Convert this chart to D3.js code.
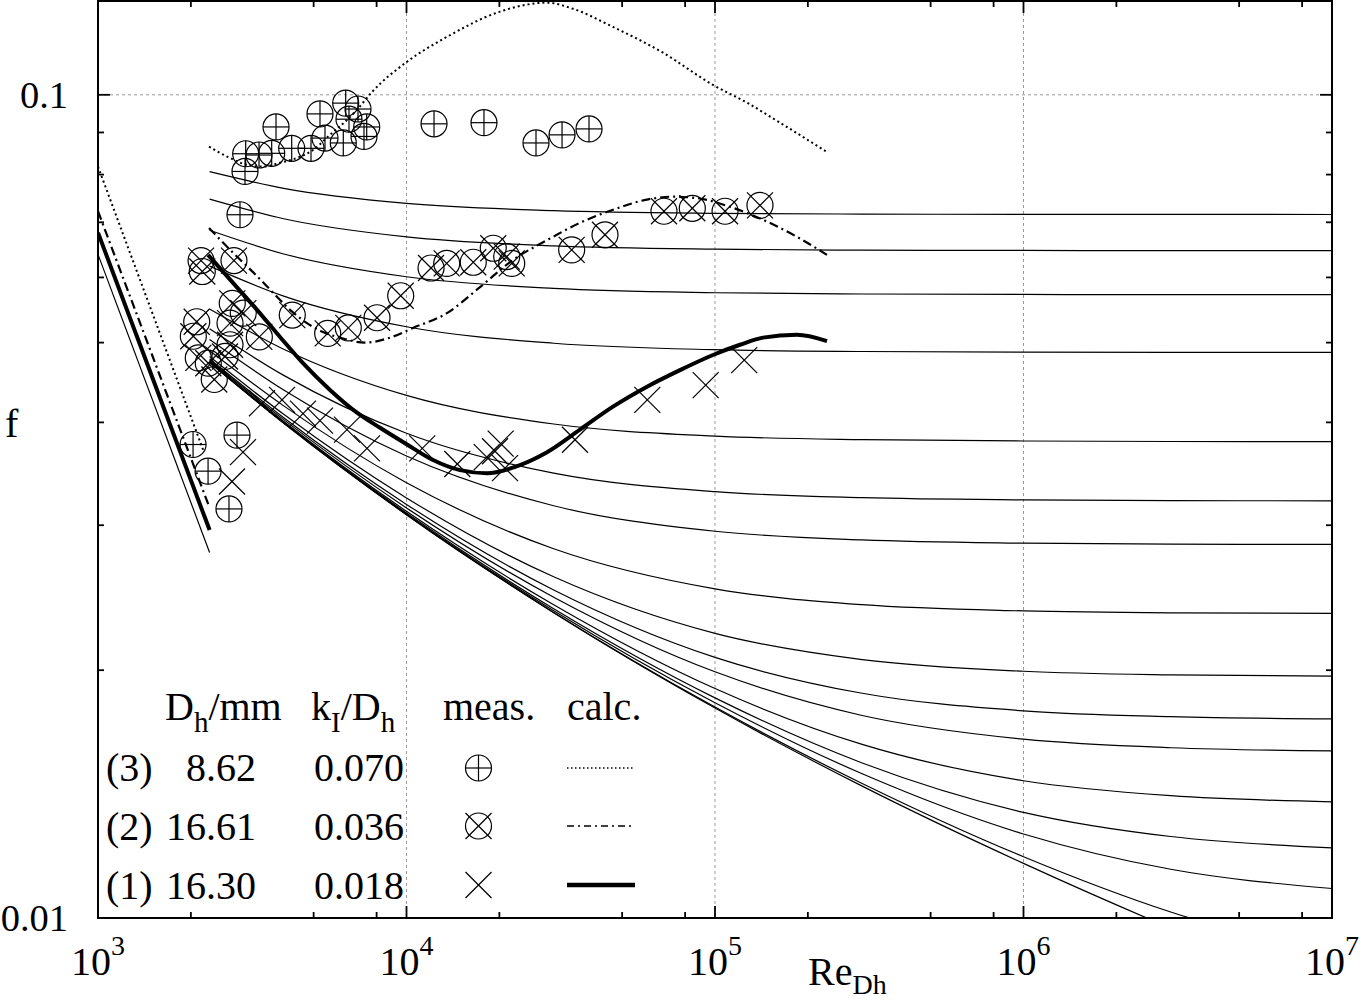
<!DOCTYPE html>
<html><head><meta charset="utf-8">
<script src="https://cdn.jsdelivr.net/npm/d3@7"></script>
<style>
body{margin:0;background:#fff}
svg{display:block}
text{font-family:"Liberation Serif","Times New Roman",serif;fill:#000}
</style>
</head><body>
<svg id="c" width="1360" height="1001"></svg>
<script>
// ---------- DATA ----------
const xMajorTicks = [1e3, 1e4, 1e5, 1e6, 1e7];
const xMajorExp = ["3", "4", "5", "6", "7"];
const xMinorTicks = [2e3, 5e3, 8e3, 2e4, 5e4, 8e4, 2e5, 5e5, 8e5, 2e6, 5e6, 8e6];
const yMajorTicks = [0.01, 0.1];
const yMajorLabels = ["0.01", "0.1"];
const yMinorTicks = [0.02, 0.03, 0.04, 0.05, 0.06, 0.07, 0.08, 0.09];
const xGrid = [1e4, 1e5, 1e6];
const yGrid = [0.1];

// thin reference curves (one per relative roughness), f at each Re
const colebrookRe = [2300, 4000, 1e4, 3e4, 1e5, 3e5, 1e6, 3e6, 1e7];
const roughness = [0.05, 0.04, 0.03, 0.02, 0.01, 0.006, 0.004, 0.002, 0.001, 0.0006, 0.0004, 0.0002, 0.0001, 0.00005, 0.00001, 0];
const colebrookF = [
  [0.08065, 0.07698, 0.07380, 0.07232, 0.07178, 0.07163, 0.07158, 0.07156, 0.07155],
  [0.07468, 0.07070, 0.06720, 0.06553, 0.06493, 0.06476, 0.06470, 0.06468, 0.06467],
  [0.06847, 0.06407, 0.06011, 0.05818, 0.05748, 0.05728, 0.05721, 0.05718, 0.05718],
  [0.06193, 0.05695, 0.05227, 0.04991, 0.04902, 0.04877, 0.04868, 0.04865, 0.04864],
  [0.05494, 0.04908, 0.04313, 0.03982, 0.03850, 0.03811, 0.03797, 0.03792, 0.03791],
  [0.05196, 0.04562, 0.03880, 0.03471, 0.03295, 0.03240, 0.03220, 0.03214, 0.03212],
  [0.05044, 0.04379, 0.03641, 0.03168, 0.02950, 0.02879, 0.02853, 0.02845, 0.02843],
  [0.04888, 0.04189, 0.03379, 0.02809, 0.02511, 0.02402, 0.02361, 0.02348, 0.02344],
  [0.04809, 0.04091, 0.03238, 0.02597, 0.02217, 0.02060, 0.01994, 0.01974, 0.01967],
  [0.04777, 0.04052, 0.03180, 0.02503, 0.02073, 0.01875, 0.01785, 0.01756, 0.01745],
  [0.04759, 0.04031, 0.03149, 0.02453, 0.01991, 0.01762, 0.01649, 0.01610, 0.01596],
  [0.04744, 0.04010, 0.03119, 0.02402, 0.01900, 0.01625, 0.01468, 0.01408, 0.01384],
  [0.04736, 0.04001, 0.03104, 0.02375, 0.01851, 0.01543, 0.01344, 0.01256, 0.01217],
  [0.04732, 0.03996, 0.03096, 0.02362, 0.01826, 0.01497, 0.01265, 0.01146, 0.01086],
  [0.04729, 0.03992, 0.03090, 0.02351, 0.01804, 0.01457, 0.01187, 0.01017, 0.008996],
  [0.04728, 0.03991, 0.03089, 0.02349, 0.01799, 0.01446, 0.01165, 0.00972, 0.00810]
];

// laminar lines on the left
const lamRe = [1000, 2300];
const lamF = [0.064, 0.0278];
const lam1Re = [1000, 2300];
const lam1F = [0.068, 0.0296];
const lam2Re = [1000, 2300];
const lam2F = [0.0722, 0.0315];
const lam3Re = [1000, 2206];
const lam3F = [0.0818, 0.0368];

// calculated curves
const calc3Re = [2290, 2679, 3041, 3426, 3890, 4416, 4977, 5649, 6413, 6910, 7731, 10040, 13530, 20100, 28540, 34650, 46700, 67830, 98500, 127000, 162400, 230700];
const calc3F = [0.0865, 0.0838, 0.0822, 0.0818, 0.0827, 0.0838, 0.0857, 0.0894, 0.0932, 0.0959, 0.1008, 0.1097, 0.1176, 0.1262, 0.1294, 0.1272, 0.1209, 0.1125, 0.1028, 0.0978, 0.0925, 0.0852];
const calc2Re = [2290, 2739, 3180, 3610, 4192, 4759, 5362, 6087, 7337, 8842, 10500, 13530, 17310, 22140, 28540, 36500, 46700, 60200, 73100, 87450, 111900, 143100, 184500, 230700];
const calc2F = [0.0689, 0.0643, 0.0609, 0.0580, 0.0548, 0.0528, 0.0515, 0.0507, 0.0500, 0.0507, 0.0521, 0.0543, 0.0584, 0.0630, 0.0666, 0.0699, 0.0725, 0.0746, 0.0752, 0.0749, 0.0731, 0.0705, 0.0672, 0.0639];
const calc1Re = [2274, 2739, 3277, 3890, 4618, 5649, 6910, 8207, 10040, 12190, 14910, 18240, 23330, 28540, 36500, 46700, 60200, 77000, 98500, 120500, 143100, 184500, 230700];
const calc1F = [0.0639, 0.0591, 0.0548, 0.0508, 0.0472, 0.0438, 0.0411, 0.0394, 0.0376, 0.0360, 0.0350, 0.0347, 0.0355, 0.0368, 0.0392, 0.0418, 0.0442, 0.0463, 0.0483, 0.0497, 0.0507, 0.0511, 0.0502];

// measurements
const meas3Re = [3776, 5243, 6352, 6963, 6510, 7430, 7281, 6239, 5442, 4903, 4245, 3656, 3326, 3011, 2996, 2886, 12280, 17830, 26290, 31930, 39050, 2033, 2274, 2822, 2658];
const meas3F = [0.0914, 0.0948, 0.0977, 0.0961, 0.0934, 0.0914, 0.0890, 0.0874, 0.0886, 0.0861, 0.0861, 0.0849, 0.0845, 0.0848, 0.0807, 0.0715, 0.0922, 0.0925, 0.0874, 0.0894, 0.0909, 0.0376, 0.0349, 0.0386, 0.0314];
const meas2Re = [2158, 2178, 2759, 2724, 2958, 2089, 2037, 2679, 2679, 2580, 3334, 2114, 2278, 2382, 4264, 5553, 6476, 8025, 9577, 12010, 13500, 16460, 19110, 21130, 21930, 34310, 44000, 68330, 84420, 107800, 139900];
const meas2F = [0.0629, 0.0610, 0.0629, 0.0558, 0.0543, 0.0530, 0.0509, 0.0528, 0.0497, 0.0481, 0.0508, 0.0479, 0.0472, 0.0451, 0.0540, 0.0513, 0.0521, 0.0536, 0.0570, 0.0616, 0.0624, 0.0626, 0.0651, 0.0636, 0.0624, 0.0648, 0.0676, 0.0722, 0.0728, 0.0722, 0.0734];
const meas1Re = [3401, 3949, 4618, 5243, 6413, 7447, 2951, 2719, 11250, 14610, 18200, 19360, 20200, 20860, 35170, 60340, 93290, 124400];
const meas1F = [0.0422, 0.0426, 0.0410, 0.0402, 0.0392, 0.0372, 0.0368, 0.0339, 0.0372, 0.0356, 0.0363, 0.0369, 0.0377, 0.0352, 0.0381, 0.0426, 0.0444, 0.0476];

// legend
const legendCase = ["(3)", "(2)", "(1)"];
const legendDh = ["8.62", "16.61", "16.30"];
const legendK = ["0.070", "0.036", "0.018"];

// ---------- DRAWING ----------
const L = 98, R = 1332, T = 1, B = 918;
const svg = d3.select("#c");
const x = d3.scaleLog().domain([1e3, 1e7]).range([L, R]);
const y = d3.scaleLog().domain([0.01, 0.13]).range([B, T]);

svg.append("defs").append("clipPath").attr("id", "plot")
  .append("rect").attr("x", L).attr("y", T).attr("width", R - L).attr("height", B - T);

// grid
const grid = svg.append("g").attr("stroke", "#9a9a9a").attr("stroke-width", 1).attr("stroke-dasharray", "3,3");
xGrid.forEach(v => grid.append("line").attr("x1", x(v)).attr("x2", x(v)).attr("y1", T).attr("y2", B));
yGrid.forEach(v => grid.append("line").attr("x1", L).attr("x2", R).attr("y1", y(v)).attr("y2", y(v)));

const plot = svg.append("g").attr("clip-path", "url(#plot)");
const lineM = d3.line().x(d => x(d[0])).y(d => y(d[1])).curve(d3.curveMonotoneX);
const lineL = d3.line().x(d => x(d[0])).y(d => y(d[1]));

// thin reference curves
colebrookF.forEach(row => {
  plot.append("path").attr("d", lineM(d3.zip(colebrookRe, row)))
    .attr("fill", "none").attr("stroke", "#000").attr("stroke-width", 1.2);
});

// laminar lines
plot.append("path").attr("d", lineL(d3.zip(lamRe, lamF))).attr("fill", "none").attr("stroke", "#000").attr("stroke-width", 1.2);
plot.append("path").attr("d", lineL(d3.zip(lam1Re, lam1F))).attr("fill", "none").attr("stroke", "#000").attr("stroke-width", 4);
plot.append("path").attr("d", lineL(d3.zip(lam2Re, lam2F))).attr("fill", "none").attr("stroke", "#000").attr("stroke-width", 2.2).attr("stroke-dasharray", "9,4,2,4");
plot.append("path").attr("d", lineL(d3.zip(lam3Re, lam3F))).attr("fill", "none").attr("stroke", "#000").attr("stroke-width", 2).attr("stroke-dasharray", "2,3");

// calculated curves
plot.append("path").attr("d", lineM(d3.zip(calc3Re, calc3F))).attr("fill", "none").attr("stroke", "#000").attr("stroke-width", 2).attr("stroke-dasharray", "2,3");
plot.append("path").attr("d", lineM(d3.zip(calc2Re, calc2F))).attr("fill", "none").attr("stroke", "#000").attr("stroke-width", 2.2).attr("stroke-dasharray", "9,4,2,4");
plot.append("path").attr("d", lineM(d3.zip(calc1Re, calc1F))).attr("fill", "none").attr("stroke", "#000").attr("stroke-width", 4);

// markers
const MR = 13;
function circlePlus(g, cx, cy) {
  g.append("circle").attr("cx", cx).attr("cy", cy).attr("r", MR);
  g.append("line").attr("x1", cx - MR).attr("x2", cx + MR).attr("y1", cy).attr("y2", cy);
  g.append("line").attr("x1", cx).attr("x2", cx).attr("y1", cy - MR).attr("y2", cy + MR);
}
function cross(g, cx, cy) {
  g.append("line").attr("x1", cx - MR).attr("x2", cx + MR).attr("y1", cy - MR).attr("y2", cy + MR);
  g.append("line").attr("x1", cx - MR).attr("x2", cx + MR).attr("y1", cy + MR).attr("y2", cy - MR);
}
function circleTimes(g, cx, cy) {
  g.append("circle").attr("cx", cx).attr("cy", cy).attr("r", MR);
  cross(g, cx, cy);
}
const mk = svg.append("g").attr("fill", "none").attr("stroke", "#000").attr("stroke-width", 1.2);
meas3Re.forEach((r, i) => circlePlus(mk, x(r), y(meas3F[i])));
meas2Re.forEach((r, i) => circleTimes(mk, x(r), y(meas2F[i])));
meas1Re.forEach((r, i) => cross(mk, x(r), y(meas1F[i])));

// frame and ticks
const ax = svg.append("g").attr("stroke", "#000");
ax.append("rect").attr("x", L).attr("y", T).attr("width", R - L).attr("height", B - T)
  .attr("fill", "none").attr("stroke-width", 2);
function xt(v, len) {
  ax.append("line").attr("x1", x(v)).attr("x2", x(v)).attr("y1", B).attr("y2", B - len).attr("stroke-width", 1.8);
  ax.append("line").attr("x1", x(v)).attr("x2", x(v)).attr("y1", T).attr("y2", T + len).attr("stroke-width", 1.8);
}
function yt(v, len) {
  ax.append("line").attr("x1", L).attr("x2", L + len).attr("y1", y(v)).attr("y2", y(v)).attr("stroke-width", 1.8);
  ax.append("line").attr("x1", R).attr("x2", R - len).attr("y1", y(v)).attr("y2", y(v)).attr("stroke-width", 1.8);
}
xMajorTicks.forEach(v => xt(v, 12));
xMinorTicks.forEach(v => xt(v, 6));
yMajorTicks.forEach(v => yt(v, 12));
yMinorTicks.forEach(v => yt(v, 6));

// tick labels
yMajorTicks.forEach((v, i) => {
  svg.append("text").attr("x", 68).attr("y", y(v) + 13).attr("text-anchor", "end")
    .attr("font-size", 38.5).text(yMajorLabels[i]);
});
xMajorTicks.forEach((v, i) => {
  const t = svg.append("text").attr("x", x(v)).attr("y", 975).attr("text-anchor", "middle").attr("font-size", 40);
  t.append("tspan").text("10");
  t.append("tspan").attr("font-size", 28).attr("dy", -20).text(xMajorExp[i]);
});

// axis titles
svg.append("text").attr("x", 5).attr("y", 437).attr("font-size", 40).text("f");
const xl = svg.append("text").attr("x", 808).attr("y", 985).attr("font-size", 40);
xl.append("tspan").text("Re");
xl.append("tspan").attr("font-size", 28).attr("dy", 9).text("Dh");

// legend
const h1 = svg.append("text").attr("x", 165).attr("y", 720).attr("font-size", 40);
h1.append("tspan").text("D");
h1.append("tspan").attr("font-size", 29).attr("dy", 12).text("h");
h1.append("tspan").attr("dy", -12).text("/mm");
const h2 = svg.append("text").attr("x", 311).attr("y", 720).attr("font-size", 40);
h2.append("tspan").text("k");
h2.append("tspan").attr("font-size", 29).attr("dy", 12).text("I");
h2.append("tspan").attr("dy", -12).text("/D");
h2.append("tspan").attr("font-size", 29).attr("dy", 12).text("h");
svg.append("text").attr("x", 443).attr("y", 720).attr("font-size", 40).text("meas.");
svg.append("text").attr("x", 567).attr("y", 720).attr("font-size", 40).text("calc.");

const rowBase = [781, 840, 899];
const rowMid = [768, 826, 885];
legendCase.forEach((c, i) => {
  svg.append("text").attr("x", 106).attr("y", rowBase[i]).attr("font-size", 40).text(c);
  svg.append("text").attr("x", 256).attr("y", rowBase[i]).attr("font-size", 40).attr("text-anchor", "end").text(legendDh[i]);
  svg.append("text").attr("x", 404).attr("y", rowBase[i]).attr("font-size", 40).attr("text-anchor", "end").text(legendK[i]);
});
const lg = svg.append("g").attr("fill", "none").attr("stroke", "#000").attr("stroke-width", 1.2);
circlePlus(lg, 478.5, rowMid[0]);
circleTimes(lg, 478.5, rowMid[1]);
cross(lg, 478.5, rowMid[2]);
svg.append("line").attr("x1", 567).attr("x2", 635).attr("y1", rowMid[0]).attr("y2", rowMid[0])
  .attr("stroke", "#000").attr("stroke-width", 1.6).attr("stroke-dasharray", "1.5,2.5");
svg.append("line").attr("x1", 567).attr("x2", 635).attr("y1", rowMid[1]).attr("y2", rowMid[1])
  .attr("stroke", "#000").attr("stroke-width", 1.6).attr("stroke-dasharray", "7,4,2,4");
svg.append("line").attr("x1", 567).attr("x2", 635).attr("y1", rowMid[2]).attr("y2", rowMid[2])
  .attr("stroke", "#000").attr("stroke-width", 4.5);
</script>
</body></html>
